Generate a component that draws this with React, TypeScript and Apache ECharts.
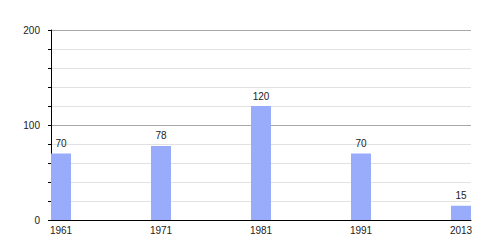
import React, { useEffect, useRef } from "react";
import * as echarts from "echarts";

const years = ["1961", "1971", "1981", "1991", "2013"];
const values = [70, 78, 120, 70, 15];
const yMin = 0;
const yMax = 200;
const yInterval = 100;

export default function App() {
  const ref = useRef<HTMLDivElement>(null);
  useEffect(() => {
    if (!ref.current) return;
    const chart = echarts.init(ref.current, undefined, { renderer: "svg" });
    const font = "Liberation Sans, Arial, sans-serif";
    chart.setOption({
      animation: false,
      grid: { left: 51, right: 29, top: 30, bottom: 30, containLabel: false },
      xAxis: {
        type: "value",
        min: -0.1,
        max: 4.1,
        axisLine: { show: true, onZero: false, lineStyle: { color: "#000", width: 1 } },
        axisTick: { show: false },
        splitLine: { show: false },
        axisLabel: {
          customValues: years.map((_, i) => i),
          formatter: (v: number) => years[Math.round(v)] ?? "",
          color: "#222",
          fontSize: 10,
          fontFamily: font,
          margin: 5,
        },
      },
      yAxis: {
        type: "value",
        min: yMin,
        max: yMax,
        interval: yInterval,
        axisLine: { show: true, onZero: false, lineStyle: { color: "#000", width: 1 } },
        axisTick: { show: true, length: 3, lineStyle: { color: "#000" } },
        minorTick: { show: true, splitNumber: 5, length: 3, lineStyle: { color: "#000" } },
        splitLine: { show: true, lineStyle: { color: "#a8a8a8", width: 1 } },
        minorSplitLine: { show: true, lineStyle: { color: "#e2e2e2", width: 1 } },
        axisLabel: { color: "#222", fontSize: 10, fontFamily: font, margin: 11 },
      },
      series: [
        {
          type: "bar",
          data: values.map((v, i) => [i, v]),
          barWidth: 20,
          itemStyle: { color: "#99abfb" },
          label: {
            show: true,
            position: "top",
            distance: 5,
            color: "#222",
            fontSize: 10,
            fontFamily: font,
            formatter: (p: any) => String(p.value[1]),
          },
        },
      ],
    });
    return () => chart.dispose();
  }, []);
  return (
    <div
      ref={ref}
      style={{ position: "fixed", left: 0, top: 0, width: 500, height: 250, background: "#fff" }}
    />
  );
}
